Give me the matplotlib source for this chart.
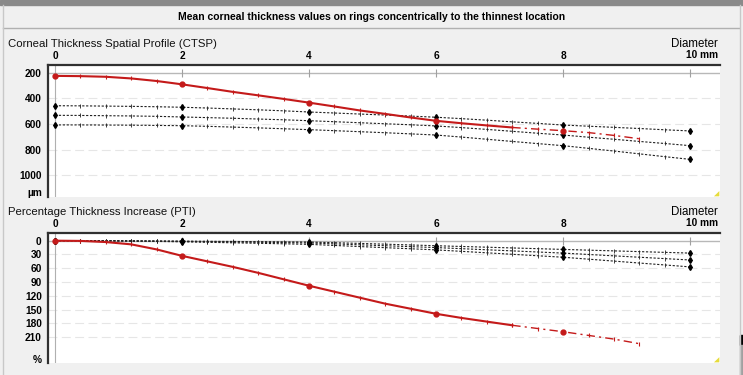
import matplotlib.pyplot as plt
from matplotlib.lines import Line2D
from matplotlib.patches import Polygon, Rectangle

# ring diameters (mm), sampled every 0.4 mm
diam = [0.0, 0.4, 0.8, 1.2, 1.6, 2.0, 2.4, 2.8, 3.2, 3.6, 4.0, 4.4, 4.8,
        5.2, 5.6, 6.0, 6.4, 6.8, 7.2, 7.6, 8.0, 8.4, 8.8, 9.2, 9.6, 10.0]

# patient CTSP (um) and PTI (%) up to 9.2 mm
ctsp_eye = [225, 227, 232, 245, 265, 291, 320, 350, 377, 405, 434, 464, 495,
            522, 550, 576, 595, 612, 628, 641, 653, 668, 690, 716]
pti_eye = [0, 0.5, 3, 8, 19, 33, 45, 57, 70, 84, 98, 111, 124,
           137, 148, 159, 168, 176, 184, 191, 198, 206, 214, 224]

# normative curves (upper, mean, lower)
ctsp_norm = [
    [458, 459, 461, 463, 466, 470, 476, 483, 490, 498, 507, 515, 523,
     531, 539, 548, 559, 571, 584, 596, 609, 618, 627, 636, 646, 655],
    [533, 534, 536, 538, 541, 546, 551, 556, 562, 568, 575, 583, 591,
     599, 607, 616, 629, 643, 658, 673, 687, 704, 720, 737, 753, 770],
    [608, 608, 609, 610, 612, 614, 619, 625, 631, 638, 645, 653, 661,
     669, 678, 687, 703, 720, 737, 754, 770, 791, 812, 834, 856, 877],
]
pti_norm = [
    [0, 0, 0.1, 0.3, 0.6, 1, 1.3, 1.7, 2.1, 2.5, 3, 4.4, 6,
     7.6, 9.3, 11, 12.6, 14.2, 15.8, 17.4, 19, 20.6, 22.2, 23.8, 25.4, 27],
    [0, 0.1, 0.3, 0.6, 1, 1.5, 2.1, 2.8, 3.5, 4.2, 5, 7, 9,
     11, 13, 15, 17.4, 19.8, 22.2, 24.6, 27, 30, 33, 36, 39, 42],
    [0, 0.1, 0.4, 0.9, 1.6, 2.5, 3.5, 4.6, 5.7, 6.8, 8, 10.4, 12.8,
     15.2, 17.6, 20, 23.2, 26.4, 29.6, 32.8, 36, 40.2, 44.4, 48.6, 52.8, 57],
]

x_ticks = [0, 2, 4, 6, 8]
ctsp_ticks = [200, 400, 600, 800, 1000]
pti_ticks = [0, 30, 60, 90, 120, 150, 180, 210]

W, H = 743, 375
RED = "#c41a1a"
plt.rcParams["font.family"] = ["Liberation Sans", "DejaVu Sans"]

fig = plt.figure(figsize=(W / 100, H / 100), dpi=100, facecolor="#f0f0f0")


def px_axes(x0, y0, x1, y1):
    return fig.add_axes([x0 / W, 1 - y1 / H, (x1 - x0) / W, (y1 - y0) / H])


def draw_panel(ax, eye, norms, yticks, unit, unit_pos, ylim):
    ax.set_facecolor("white")
    ax.set_xlim(-0.11, 10.47)
    ax.set_ylim(*ylim)
    for side in ("right", "bottom"):
        ax.spines[side].set_visible(False)
    for side in ("left", "top"):
        ax.spines[side].set_color("#303030")
        ax.spines[side].set_linewidth(1.6)

    ax.xaxis.tick_top()
    ax.set_xticks(x_ticks)
    ax.set_xticklabels([str(t) for t in x_ticks], fontsize=7.3, fontweight="bold")
    ax.set_yticks(yticks + [unit_pos])
    ax.set_yticklabels([str(t) for t in yticks] + [unit], fontsize=7.3,
                       fontweight="bold")
    ax.tick_params(length=0, pad=4.5)
    ax.tick_params(axis="x", pad=3)

    # reference line at the first tick, faint grid at the others
    ax.axhline(yticks[0], color="#b8b8b8", lw=1.0, zorder=1)
    for v in yticks[1:]:
        ax.axhline(v, color="#e6e6e6", lw=0.8, ls=(0, (8, 4)), zorder=1)
    ax.axvline(0, color="#b0b0b0", lw=0.8, zorder=1)
    ax.plot(x_ticks[1:] + [10], [yticks[0]] * 5, "|", color="#a0a0a0",
            ms=6, mew=0.8, zorder=1)

    # normative curves
    for vals in norms:
        ax.plot(diam, vals, color="#202020", lw=0.8, ls=(0, (2, 1.5)),
                marker="|", ms=2.5, mew=0.6, zorder=2)
        ax.plot(diam[::5], vals[::5], "d", color="black", ms=3, zorder=3)

    # patient curve: solid to 7.2 mm, dash-dot beyond
    n = len(eye)
    ax.plot(diam[:19], eye[:19], color=RED, lw=1.5, marker="|", ms=3,
            mew=0.8, zorder=4)
    ax.plot(diam[18:n], eye[18:], color=RED, lw=1.0, ls=(0, (6, 3, 1.5, 3)),
            marker="|", ms=3, mew=0.8, zorder=4)
    ax.plot(diam[:n:5], eye[::5], "o", color=RED, ms=3.5, zorder=5)

    ax.add_patch(Polygon([(0.999, 0.005), (0.999, 0.045), (0.991, 0.005)],
                         closed=True, transform=ax.transAxes,
                         color="#e6dc3c", lw=0, zorder=6))


ax1 = px_axes(48, 65, 720, 197)
draw_panel(ax1, ctsp_eye, ctsp_norm, ctsp_ticks, "µm", 1130, (1171, 140))

ax2 = px_axes(48, 233, 720, 363)
draw_panel(ax2, pti_eye, pti_norm, pti_ticks, "%", 258, (266, -16.7))


def fig_text(x, y, s, **kw):
    fig.text(x / W, 1 - y / H, s, va="center", **kw)


fig_text(372, 17, "Mean corneal thickness values on rings concentrically "
         "to the thinnest location", ha="center", fontsize=7.5,
         fontweight="bold")
fig_text(8, 44, "Corneal Thickness Spatial Profile (CTSP)", fontsize=8.2,
         color="#111111")
fig_text(8, 212, "Percentage Thickness Increase (PTI)", fontsize=8.2,
         color="#111111")
for y_top in (44, 212):
    fig_text(718, y_top, "Diameter", ha="right", fontsize=8.3)
    fig_text(718, y_top + 11, "10 mm", ha="right", fontsize=7.3,
             fontweight="bold")

# window chrome
fig.patches.append(Rectangle((0, 1 - 5 / H), 1, 5 / H, color="#8a8a8a",
                             transform=fig.transFigure, zorder=0))
fig.lines.append(Line2D([3 / W, 739 / W], [1 - 28 / H] * 2, color="#b0b0b0",
                        lw=1, transform=fig.transFigure))
fig.lines.append(Line2D([2.5 / W] * 2, [0, 1 - 5 / H], color="#c8c8c8",
                        lw=1, transform=fig.transFigure))
fig.lines.append(Line2D([739.5 / W] * 2, [0, 1 - 5 / H], color="#c8c8c8",
                        lw=1, transform=fig.transFigure))
fig.patches.append(Rectangle((740 / W, 1 - 345 / H), 3 / W, 10 / H,
                             color="black", transform=fig.transFigure))
fig.patches.append(Rectangle((740 / W, 0), 3 / W, 30 / H, color="#a0a0a0",
                             transform=fig.transFigure))

fig.savefig("out.png", dpi=100, facecolor=fig.get_facecolor())
